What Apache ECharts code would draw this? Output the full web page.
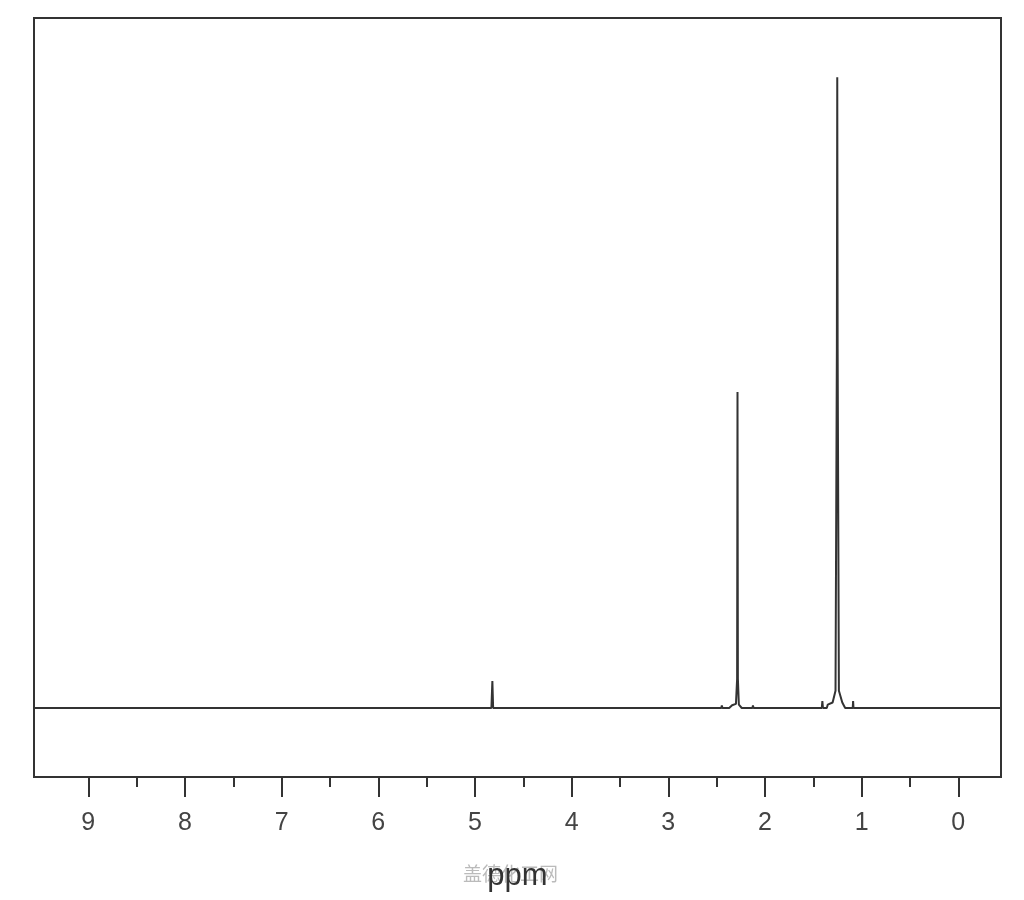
<!DOCTYPE html>
<html>
<head>
<meta charset="utf-8">
<script src="https://cdn.jsdelivr.net/npm/echarts@6/dist/echarts.min.js"></script>
<style>
  html, body { margin: 0; padding: 0; background: #fff; }
  #chart { width: 1024px; height: 900px; }
</style>
</head>
<body>
<div id="chart"></div>
<script>
// chemical shift (ppm) and intensity
const shiftPpm = [
  9.562, 4.830, 4.822, 4.820, 4.814, 4.812,
  2.452, 2.446, 2.440, 2.370, 2.340, 2.300, 2.288, 2.284, 2.280, 2.270, 2.240,
  2.130, 2.124, 2.118,
  1.412, 1.406, 1.400, 1.360, 1.350, 1.300, 1.270, 1.256, 1.252, 1.248, 1.235, 1.200, 1.170,
  1.092, 1.088, 1.084, -0.442
];
const intensity = [
  0, 0, 0, 3.9, 3.9, 0,
  0, 0.35, 0, 0, 0.4, 0.6, 4.2, 45.8, 4.2, 0.5, 0,
  0, 0.35, 0,
  0, 1.0, 0, 0, 0.5, 0.8, 2.5, 52, 91.4, 52, 2.5, 0.8, 0,
  0, 1.0, 0, 0
];
const majorTicks = [9, 8, 7, 6, 5, 4, 3, 2, 1, 0];
const minorTicks = [8.5, 7.5, 6.5, 5.5, 4.5, 3.5, 2.5, 1.5, 0.5];

const spectrum = shiftPpm.map((x, i) => [x, intensity[i]]);

const chart = echarts.init(document.getElementById('chart'));
const xBase = {
  type: 'value',
  inverse: true,
  min: -0.442,
  max: 9.562,
  position: 'bottom',
  axisLine: { show: false, onZero: false },
  splitLine: { show: false }
};
chart.setOption({
  animation: false,
  grid: {
    left: 34, right: 23, top: 18, bottom: 123,
    show: true, borderColor: '#333', borderWidth: 2
  },
  xAxis: [
    Object.assign({}, xBase, {
      axisTick: { customValues: majorTicks, length: 20, lineStyle: { color: '#333', width: 2 } },
      axisLabel: {
        customValues: majorTicks, margin: 34, fontSize: 25,
        fontFamily: 'Liberation Sans', color: '#444'
      },
      name: 'ppm',
      nameLocation: 'middle',
      nameGap: 84,
      nameTextStyle: { fontSize: 31, fontFamily: 'Liberation Sans', color: '#333' }
    }),
    Object.assign({}, xBase, {
      axisTick: { customValues: minorTicks, length: 10, lineStyle: { color: '#333', width: 2 } },
      axisLabel: { show: false }
    })
  ],
  yAxis: { type: 'value', min: -10, max: 100, show: false },
  graphic: [{
    type: 'text', left: 463, top: 864, z: -1,
    style: { text: '盖德化工网', fontSize: 19, fontFamily: 'Noto Sans CJK SC', fill: '#bbb' }
  }],
  series: [{
    type: 'line',
    data: spectrum,
    showSymbol: false,
    sampling: false,
    lineStyle: { color: '#333', width: 2 }
  }]
});
</script>
</body>
</html>
